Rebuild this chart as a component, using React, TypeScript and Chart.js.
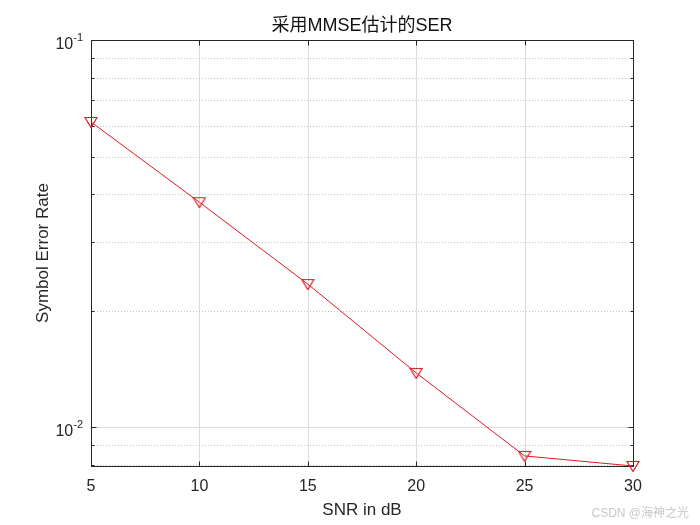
import { useEffect, useRef } from "react";
import { Chart, registerables } from "chart.js";

Chart.register(...registerables);

// ---- data ----
const snrDb = [5, 10, 15, 20, 25, 30];
const ser = [0.0614, 0.0381, 0.0234, 0.0138, 0.00842, 0.00793];

// ---- axes ----
const xMin = 5;
const xMax = 30;
const xTickValues = [5, 10, 15, 20, 25, 30];
const yMin = 0.00793;
const yMax = 0.1;
const yMajorTicks = [0.01, 0.1];
const yMajorExponents = ["-2", "-1"];
const yMinorTicks = [0.008, 0.009, 0.02, 0.03, 0.04, 0.05, 0.06, 0.07, 0.08, 0.09];

const titleText = "采用MMSE估计的SER";
const xLabel = "SNR in dB";
const yLabel = "Symbol Error Rate";
const watermark = "CSDN @海神之光";

const LATIN = '"Liberation Sans", Arial, Helvetica, "Noto Sans CJK SC", sans-serif';
const RED = "rgb(230,22,32)";

function makeMarker(color: string) {
  const c = document.createElement("canvas");
  c.width = 14;
  c.height = 12;
  const g = c.getContext("2d")!;
  g.strokeStyle = color;
  g.lineWidth = 1.2;
  g.beginPath();
  g.moveTo(1, 1.5);
  g.lineTo(13, 1.5);
  g.lineTo(7, 11.5);
  g.closePath();
  g.stroke();
  return c;
}

const matlabAxes = {
  id: "matlabAxes",
  beforeDatasetsDraw(chart: any) {
    const { ctx, chartArea, scales } = chart;
    const { left, right, top, bottom } = chartArea;
    const x = scales.x;
    const y = scales.y;
    ctx.save();
    ctx.lineWidth = 1;
    // x grid
    ctx.strokeStyle = "#dcdcdc";
    ctx.beginPath();
    for (const v of xTickValues) {
      if (v <= xMin || v >= xMax) continue;
      const px = Math.round(x.getPixelForValue(v)) + 0.5;
      ctx.moveTo(px, top);
      ctx.lineTo(px, bottom);
    }
    for (const v of yMajorTicks) {
      if (v <= yMin || v >= yMax) continue;
      const py = Math.round(y.getPixelForValue(v)) + 0.5;
      ctx.moveTo(left, py);
      ctx.lineTo(right, py);
    }
    ctx.stroke();
    // minor dotted grid
    ctx.strokeStyle = "#c4c4c4";
    ctx.setLineDash([1, 2]);
    ctx.beginPath();
    for (const v of yMinorTicks) {
      if (v <= yMin || v >= yMax) continue;
      const py = Math.round(y.getPixelForValue(v)) + 0.5;
      ctx.moveTo(left, py);
      ctx.lineTo(right, py);
    }
    ctx.stroke();
    ctx.setLineDash([]);

    // box
    const L = Math.round(left) + 0.5;
    const R = Math.round(right) + 0.5;
    const T = Math.round(top) + 0.5;
    const B = Math.round(bottom) + 0.5;
    ctx.strokeStyle = "#262626";
    ctx.strokeRect(L, T, R - L, B - T);

    // ticks
    ctx.beginPath();
    const major = 5;
    const minor = 3;
    for (const v of xTickValues) {
      const px = Math.round(x.getPixelForValue(v)) + 0.5;
      ctx.moveTo(px, B);
      ctx.lineTo(px, B - major);
      ctx.moveTo(px, T);
      ctx.lineTo(px, T + major);
    }
    for (const v of yMajorTicks) {
      const py = Math.round(y.getPixelForValue(v)) + 0.5;
      ctx.moveTo(L, py);
      ctx.lineTo(L + major, py);
      ctx.moveTo(R, py);
      ctx.lineTo(R - major, py);
    }
    for (const v of yMinorTicks) {
      if (v < yMin || v > yMax) continue;
      const py = Math.round(y.getPixelForValue(v)) + 0.5;
      ctx.moveTo(L, py);
      ctx.lineTo(L + minor, py);
      ctx.moveTo(R, py);
      ctx.lineTo(R - minor, py);
    }
    ctx.stroke();
    ctx.restore();
  },
  afterDraw(chart: any) {
    const { ctx, chartArea, scales } = chart;
    const { left, right, top, bottom } = chartArea;
    const x = scales.x;
    const y = scales.y;
    const cx = (left + right) / 2;
    const cy = (top + bottom) / 2;
    ctx.save();
    ctx.fillStyle = "#262626";

    // x tick labels
    ctx.font = `16px ${LATIN}`;
    ctx.textAlign = "center";
    ctx.textBaseline = "alphabetic";
    for (const v of xTickValues) {
      ctx.fillText(String(v), x.getPixelForValue(v), bottom + 25);
    }

    // y tick labels 10^n
    yMajorTicks.forEach((v, i) => {
      const py = Math.round(y.getPixelForValue(v));
      ctx.font = `11px ${LATIN}`;
      const sup = yMajorExponents[i];
      const supW = ctx.measureText(sup).width;
      const rightEdge = left - 8;
      ctx.textAlign = "left";
      ctx.fillText(sup, rightEdge - supW, py + 1);
      ctx.font = `16px ${LATIN}`;
      ctx.textAlign = "right";
      ctx.fillText("10", rightEdge - supW, py + 9);
    });

    // axis labels
    ctx.font = `17px ${LATIN}`;
    ctx.textAlign = "center";
    ctx.fillText(xLabel, cx, bottom + 49);
    ctx.save();
    ctx.translate(48, cy);
    ctx.rotate(-Math.PI / 2);
    ctx.fillText(yLabel, 0, 0);
    ctx.restore();

    // title
    ctx.font = `18px ${LATIN}`;
    ctx.fillStyle = "#111111";
    ctx.fillText(titleText, cx, top - 9);

    // watermark
    ctx.font = `12px ${LATIN}`;
    ctx.fillStyle = "#c8c8c8";
    ctx.textAlign = "right";
    ctx.fillText(watermark, 689, 517);
    ctx.restore();
  },
};

export default function App() {
  const ref = useRef<HTMLCanvasElement | null>(null);
  useEffect(() => {
    const canvas = ref.current!;
    const marker = makeMarker(RED);
    const chart = new Chart(canvas, {
      type: "line",
      data: {
        datasets: [
          {
            data: snrDb.map((s, i) => ({ x: s, y: ser[i] })),
            borderColor: RED,
            borderWidth: 1,
            pointStyle: marker as any,
            pointRadius: 6,
            pointHoverRadius: 6,
            clip: false as any,
            tension: 0,
            fill: false,
          },
        ],
      },
      options: {
        responsive: false,
        animation: false,
        events: [],
        layout: { padding: { left: 0, top: 40, right: 67, bottom: 0 } },
        plugins: {
          legend: { display: false },
          title: { display: false },
          tooltip: { enabled: false },
        },
        scales: {
          x: {
            type: "linear",
            min: xMin,
            max: xMax,
            ticks: { display: false },
            grid: { display: false },
            border: { display: false },
            afterFit: (s: any) => {
              s.height = 59;
            },
          },
          y: {
            type: "logarithmic",
            min: yMin,
            max: yMax,
            ticks: { display: false },
            grid: { display: false },
            border: { display: false },
            afterFit: (s: any) => {
              s.width = 91;
            },
          },
        },
      },
      plugins: [matlabAxes],
    });
    return () => chart.destroy();
  }, []);
  return (
    <div style={{ position: "absolute", left: 0, top: 0, width: 700, height: 525, background: "#fff" }}>
      <canvas ref={ref} width={700} height={525} />
    </div>
  );
}
